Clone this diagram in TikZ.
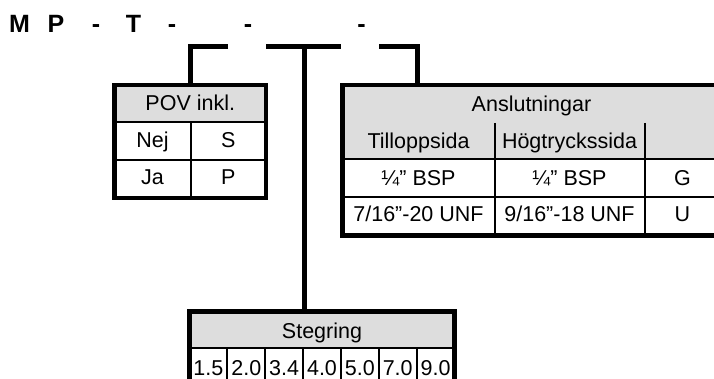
\documentclass[tikz,border=0pt]{standalone}
\usepackage{fontspec}
\setmainfont{Liberation Sans}
\definecolor{hdr}{RGB}{221,221,221}
\newcommand\celltext{\fontsize{21.5}{25}\selectfont}
\newcommand\titletext{\fontsize{25}{28}\selectfont\bfseries}
\begin{document}
\begin{tikzpicture}[x=1pt,y=-1pt,
  outerbox/.style={draw,line width=4.5pt,inner sep=0pt,fill=none},
  innerline/.style={line width=2pt},
  conn/.style={line width=4.5pt},
  cell/.style={anchor=base,inner sep=0pt,font=\celltext},
  ttl/.style={anchor=base,inner sep=0pt,font=\titletext}]
\path[use as bounding box] (0,0) rectangle (714,379);
\begin{scope}
\clip (0,0) rectangle (714,379);

% title
\node[ttl] (t1) at (19.5,33) {M};
\node[ttl] (t2) at (56,33) {P};
\node[ttl] (t3) at (96,33) {-};
\node[ttl] (t4) at (133.5,33) {T};
\node[ttl] (t5) at (172,33) {-};
\node[ttl] (t6) at (248,33) {-};
\node[ttl] (t7) at (361.5,33) {-};

% POV table
\fill[hdr] (114.5,85) rectangle (266,122.5);
\draw[innerline] (114.5,122.5) -- (266,122.5);
\draw[innerline] (114.5,160) -- (266,160);
\draw[innerline] (190.5,122.5) -- (190.5,198);
\node[outerbox,minimum width=151.5pt,minimum height=113pt] (pov) at (190.25,141.5) {};
\node[cell] (povh) at (190.25,111) {POV inkl.};
\node[cell] (nej) at (152.5,147.5) {Nej};
\node[cell] (s) at (228.25,147.5) {S};
\node[cell] (ja) at (152.5,184.5) {Ja};
\node[cell] (p) at (228.25,184.5) {P};

% Anslutningar table
\fill[hdr] (342.5,85) rectangle (720.5,159.5);
\draw[innerline] (342.5,159.5) -- (720.5,159.5);
\draw[innerline] (342.5,197) -- (720.5,197);
\draw[innerline] (494.5,123) -- (494.5,235.5);
\draw[innerline] (644.5,123) -- (644.5,235.5);
\node[outerbox,minimum width=378pt,minimum height=150.5pt] (ansl) at (531.5,160.25) {};
\node[cell] (anslh) at (531.5,112) {Anslutningar};
\node[cell] (till) at (418.5,148.5) {Tilloppsida};
\node[cell] (hogt) at (569.5,148.5) {Högtryckssida};
\node[cell] (a1) at (418.5,185.5) {¼” BSP};
\node[cell] (a2) at (569.5,185.5) {¼” BSP};
\node[cell] (a3) at (682.5,185.5) {G};
\node[cell] (b1) at (418.5,222) {7/16”-20 UNF};
\node[cell] (b2) at (569.5,222) {9/16”-18 UNF};
\node[cell] (b3) at (682.5,222) {U};

% Stegring table
\fill[hdr] (189.5,311.5) rectangle (454.5,348);
\draw[innerline] (189.5,348) -- (454.5,348);
\foreach \i in {1,...,6} {
  \draw[innerline] ({189.5+\i*265/7},348) -- ({189.5+\i*265/7},392);
}
\node[outerbox,minimum width=265pt,minimum height=80.5pt] (steg) at (322,351.75) {};
\node[cell] (stegh) at (322,338.5) {Stegring};
\foreach \v [count=\i from 0] in {1.5,2.0,3.4,4.0,5.0,7.0,9.0} {
  \node[cell] (n\i) at ({189.5+(\i+0.5)*265/7},375) {\v};
}

% connectors
\coordinate (L0) at (228,46.5);
\coordinate (Lt) at (190.5,85);
\draw[conn] (L0) -| (Lt);
\coordinate (M0) at (266,46.5);
\coordinate (M1) at (341,46.5);
\coordinate (Mt) at (304.5,46.5);
\coordinate (Mb) at (304.5,311.5);
\draw[conn] (M0) -- (M1);
\draw[conn] (Mt) -- (Mb);
\coordinate (R0) at (379,46.5);
\coordinate (Rt) at (417.5,85);
\draw[conn] (R0) -| (Rt);
\end{scope}
\end{tikzpicture}
\end{document}
